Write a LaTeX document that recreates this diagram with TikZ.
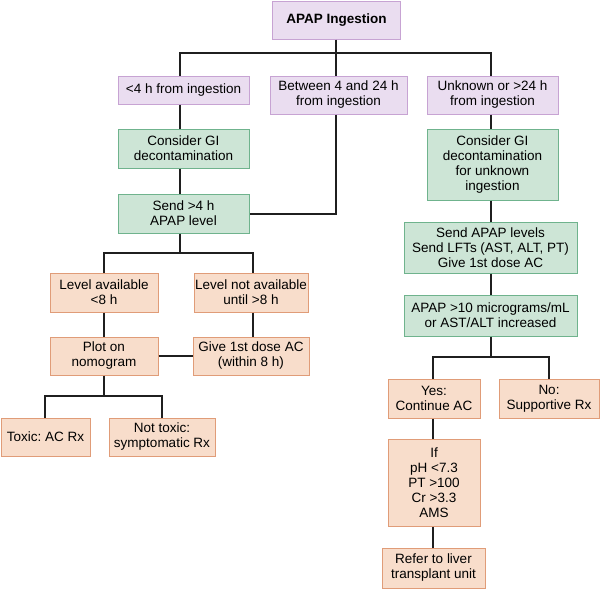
\documentclass[tikz,border=0pt]{standalone}
\usepackage{fontspec}
\setmainfont{Liberation Sans}
\frenchspacing
\definecolor{pfill}{HTML}{EADDF0}
\definecolor{pdraw}{HTML}{C7A3D3}
\definecolor{gfill}{HTML}{CDE5D6}
\definecolor{gdraw}{HTML}{6FB38D}
\definecolor{ofill}{HTML}{F8DDCB}
\definecolor{odraw}{HTML}{E09C78}
\begin{document}
\begin{tikzpicture}[x=1pt,y=-1pt,
  box/.style={line width=1pt, align=center, inner sep=0pt, font=\fontsize{13.5}{15}\selectfont},
  purp/.style={box, fill=pfill, draw=pdraw},
  gre/.style={box, fill=gfill, draw=gdraw},
  ora/.style={box, fill=ofill, draw=odraw},
  conn/.style={line width=2pt, draw=black!88, line join=miter}]
\useasboundingbox (0,0) rectangle (600,589);
% columns and junctions
\coordinate (colA) at (180,0);
\coordinate (colB) at (336,0);
\coordinate (colC) at (491,0);
\coordinate (colD) at (104,0);
\coordinate (colE) at (253,0);
\coordinate (colF) at (45,0);
\coordinate (colG) at (162,0);
\coordinate (colH) at (433,0);
\coordinate (colI) at (549,0);
\coordinate (j1) at (0,53);
\coordinate (j2) at (0,253);
\coordinate (j3) at (0,396);
\coordinate (j4) at (0,357);
% nodes
\node[purp, minimum width=128pt, minimum height=38pt] (top) at (336.5,20) {\textbf{APAP Ingestion}};
\node[purp, minimum width=131pt, minimum height=28pt] (b1) at (183.5,90) {<4 h from ingestion};
\node[purp, minimum width=137pt, minimum height=38pt] (b2) at (338.5,95) {Between 4 and 24 h\\from ingestion};
\node[purp, minimum width=131pt, minimum height=38pt] (b3) at (492.5,95) {Unknown or >24 h\\from ingestion};
\node[gre, minimum width=131pt, minimum height=39pt] (g1) at (183.5,148.5) {Consider GI\\decontamination};
\node[gre, minimum width=131pt, minimum height=39pt] (g2) at (183.5,213.5) {Send >4 h\\APAP level};
\node[gre, minimum width=131pt, minimum height=71pt] (g3) at (492.5,164.5) {Consider GI\\decontamination\\for unknown\\ingestion};
\node[gre, minimum width=173pt, minimum height=51pt] (g4) at (490.5,247.5) {Send APAP levels\\Send LFTs (AST, ALT, PT)\\Give 1st dose AC};
\node[gre, minimum width=173pt, minimum height=41pt] (g5) at (490.5,315.5) {APAP >10 micrograms/mL\\or AST/ALT increased};
\node[ora, minimum width=108pt, minimum height=39pt] (o1) at (104,292.5) {Level available\\<8 h};
\node[ora, minimum width=114pt, minimum height=39pt] (o2) at (251,292.5) {Level not available\\until >8 h};
\node[ora, minimum width=108pt, minimum height=38pt] (o3) at (104,356) {Plot on\\nomogram};
\node[ora, minimum width=116pt, minimum height=38pt] (o4) at (251,356) {Give 1st dose AC\\(within 8 h)};
\node[ora, minimum width=89pt, minimum height=38pt] (o5) at (45.5,437) {Toxic: AC Rx};
\node[ora, minimum width=106pt, minimum height=38pt] (o6) at (162,437) {Not toxic:\\symptomatic Rx};
\node[ora, minimum width=92pt, minimum height=39pt] (o7) at (434,398.5) {Yes:\\Continue AC};
\node[ora, minimum width=100pt, minimum height=39pt] (o8) at (549,398.5) {No:\\Supportive Rx};
\node[ora, minimum width=92pt, minimum height=87pt] (o9) at (434,482.5) {If\\pH <7.3\\PT >100\\Cr >3.3\\AMS};
\node[ora, minimum width=103pt, minimum height=40pt] (o10) at (433.5,568) {Refer to liver\\transplant unit};
% connectors
\draw[conn] (top.south -| colB) -- (j1 -| colB);
\draw[conn] (b1.north -| colA) -- (j1 -| colA) -- (j1 -| colC) -- (b3.north -| colC);
\draw[conn] (j1 -| colB) -- (b2.north -| colB);
\draw[conn] (b1.south -| colA) -- (g1.north -| colA);
\draw[conn] (g1.south -| colA) -- (g2.north -| colA);
\draw[conn] (b2.south -| colB) |- (g2.east);
\draw[conn] (b3.south -| colC) -- (g3.north -| colC);
\draw[conn] (g3.south -| colC) -- (g4.north -| colC);
\draw[conn] (g4.south -| colC) -- (g5.north -| colC);
\draw[conn] (g2.south -| colA) -- (j2 -| colA);
\draw[conn] (o1.north -| colD) -- (j2 -| colD) -- (j2 -| colE) -- (o2.north -| colE);
\draw[conn] (o1.south -| colD) -- (o3.north -| colD);
\draw[conn] (o2.south -| colE) -- (o4.north -| colE);
\draw[conn] (o3.east) -- (o4.west);
\draw[conn] (o3.south -| colD) -- (j3 -| colD);
\draw[conn] (o5.north -| colF) -- (j3 -| colF) -- (j3 -| colG) -- (o6.north -| colG);
\draw[conn] (g5.south -| colC) -- (j4 -| colC);
\draw[conn] (o7.north -| colH) -- (j4 -| colH) -- (j4 -| colI) -- (o8.north -| colI);
\draw[conn] (o7.south -| colH) -- (o9.north -| colH);
\draw[conn] (o9.south -| colH) -- (o10.north -| colH);
\end{tikzpicture}
\end{document}
